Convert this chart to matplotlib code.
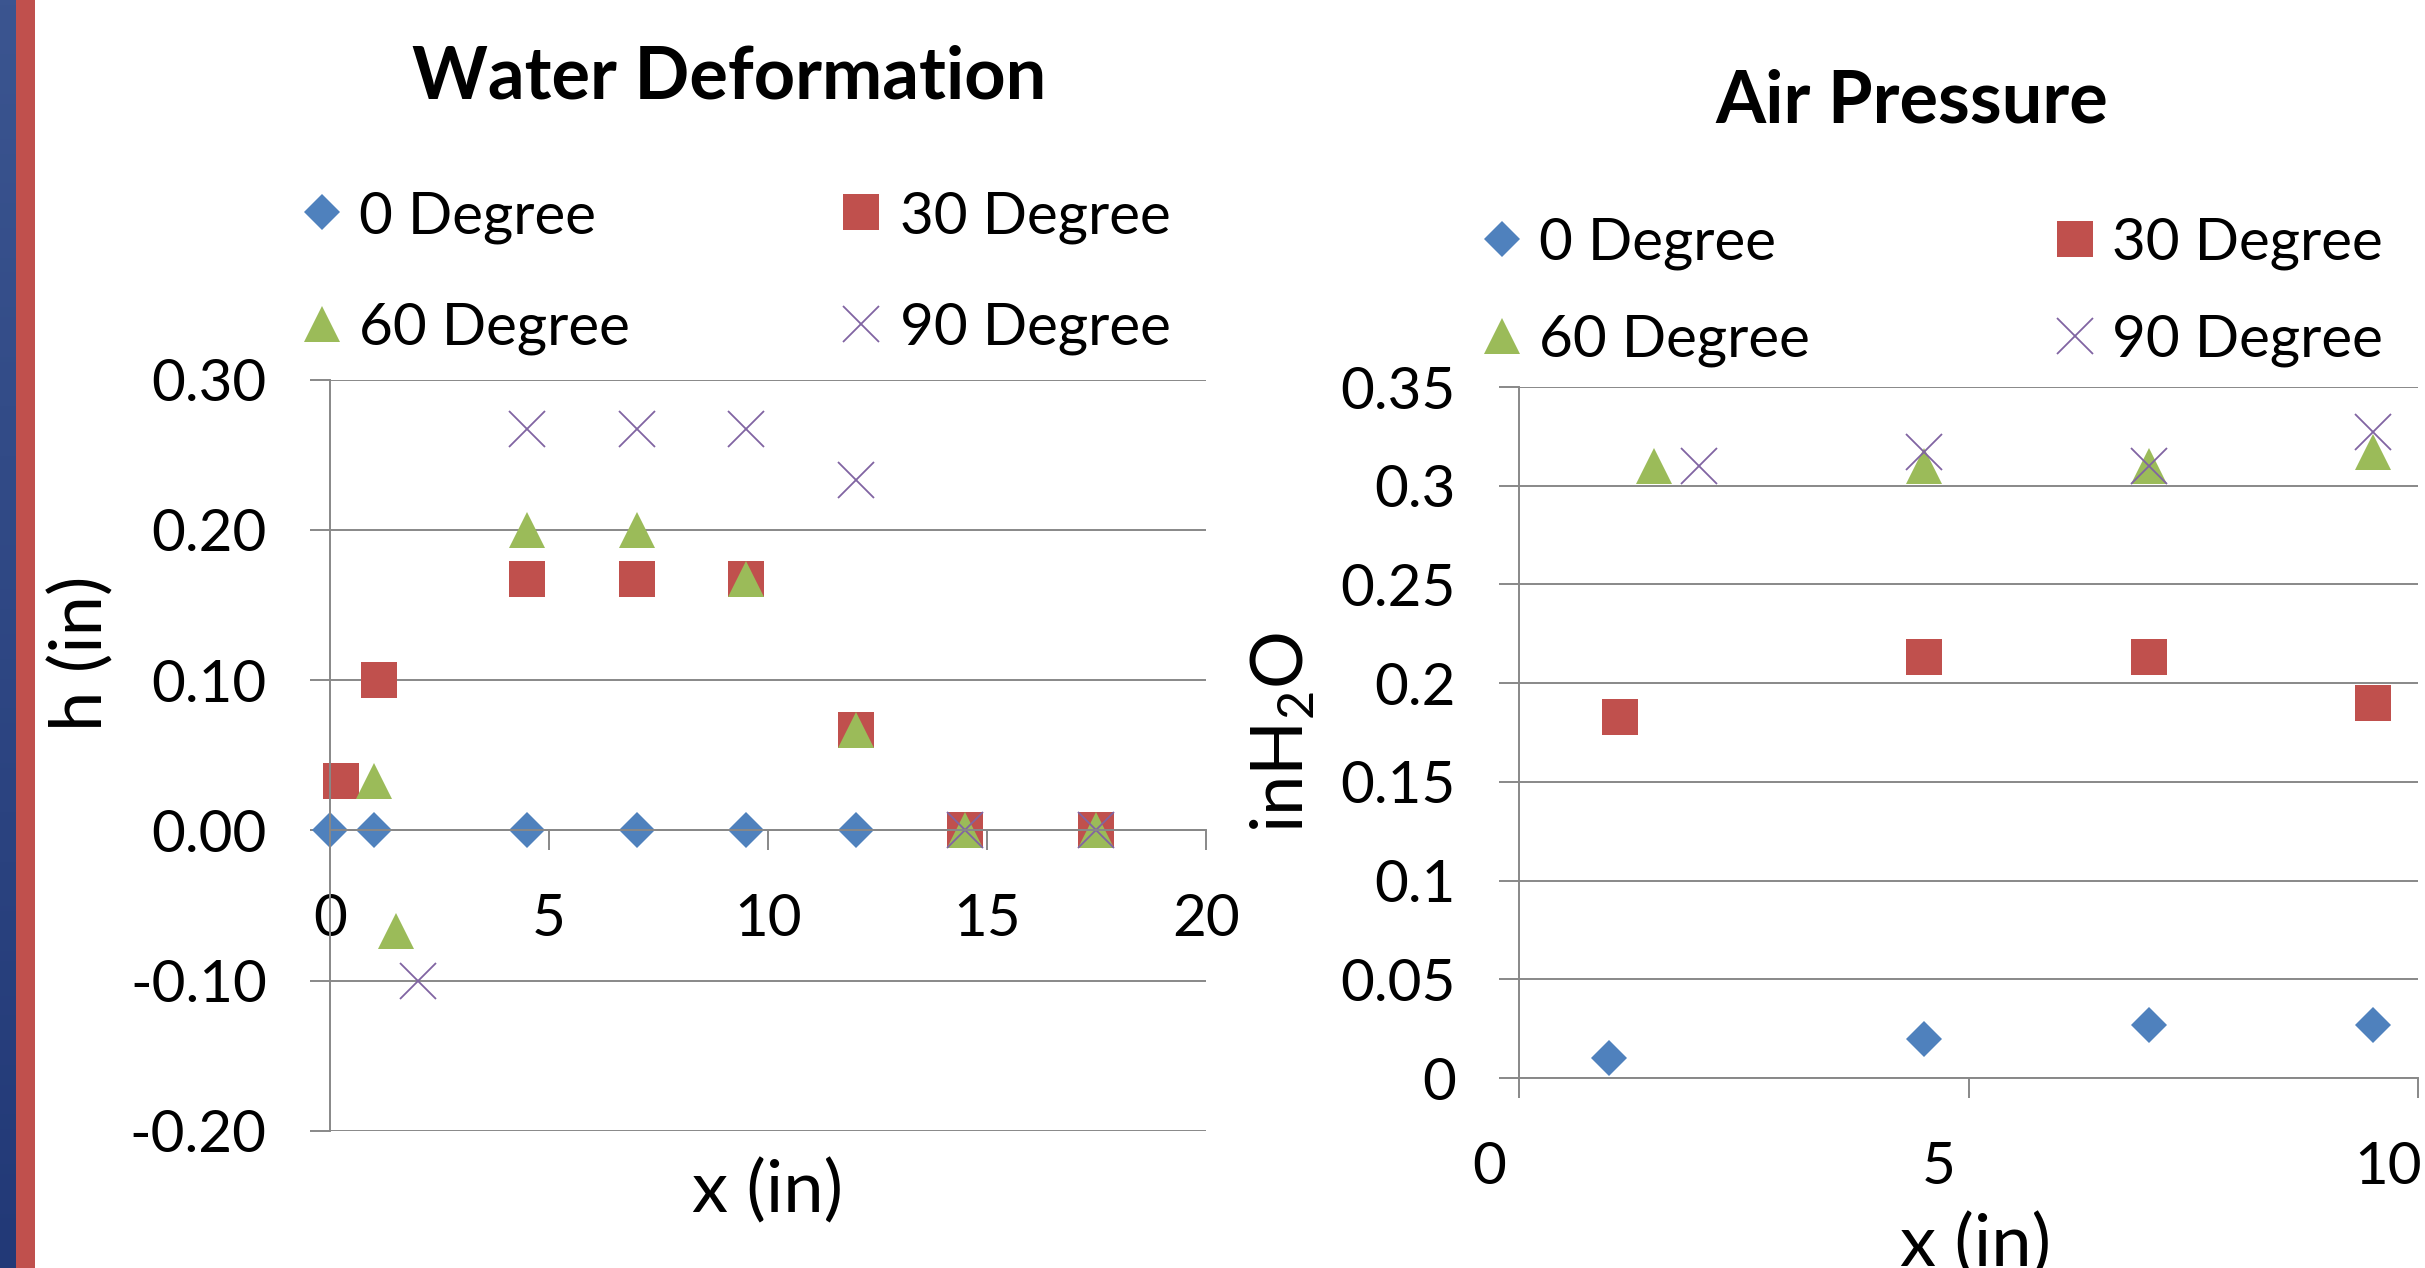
import numpy as np
import matplotlib
matplotlib.use("Agg")
import matplotlib.pyplot as plt
from matplotlib.lines import Line2D
from matplotlib.patches import Rectangle
from matplotlib.transforms import ScaledTranslation

plt.rcParams['font.family'] = ['Lato', 'DejaVu Sans']
plt.rcParams['mathtext.fontset'] = 'custom'
plt.rcParams['mathtext.rm'] = 'Lato'

# ---------------------------------------------------------------------------
# data
# ---------------------------------------------------------------------------
series_names = ['0 Degree', '30 Degree', '60 Degree', '90 Degree']

# Water Deformation: h (in) vs x (in)
water_x_0 = [0, 1, 4.5, 7, 9.5, 12, 14.5, 17.5]
water_h_0 = [0, 0, 0, 0, 0, 0, 0, 0]
water_x_30 = [0.25, 1.125, 4.5, 7, 9.5, 12, 14.5, 17.5]
water_h_30 = [0.033, 0.1, 0.167, 0.167, 0.167, 0.067, 0, 0]
water_x_60 = [1, 1.5, 4.5, 7, 9.5, 12, 14.5, 17.5]
water_h_60 = [0.033, -0.067, 0.2, 0.2, 0.167, 0.067, 0, 0]
water_x_90 = [2, 4.5, 7, 9.5, 12, 14.5, 17.5]
water_h_90 = [-0.1, 0.267, 0.267, 0.267, 0.233, 0, 0]

water_yticks = [-0.2, -0.1, 0.0, 0.1, 0.2, 0.3]
water_ytick_labels = ['-0.20', '-0.10', '0.00', '0.10', '0.20', '0.30']
water_xticks = [0, 5, 10, 15, 20]

# Air Pressure: inH2O vs x (in)
air_x_0 = [1, 4.5, 7, 9.5]
air_p_0 = [0.01, 0.02, 0.027, 0.027]
air_x_30 = [1.125, 4.5, 7, 9.5]
air_p_30 = [0.183, 0.213, 0.213, 0.19]
air_x_60 = [1.5, 4.5, 7, 9.5]
air_p_60 = [0.31, 0.31, 0.31, 0.317]
air_x_90 = [2, 4.5, 7, 9.5]
air_p_90 = [0.31, 0.317, 0.31, 0.327]

air_yticks = [0, 0.05, 0.1, 0.15, 0.2, 0.25, 0.3, 0.35]
air_ytick_labels = ['0', '0.05', '0.1', '0.15', '0.2', '0.25', '0.3', '0.35']
air_xticks = [0, 5, 10]

# ---------------------------------------------------------------------------
# styling (Excel 2007 look)
# ---------------------------------------------------------------------------
COLORS = ['#4F81BD', '#C0504D', '#9BBB59', '#8064A2']
MARKERS = ['D', 's', '^', 'x']
SIZES = [18.5, 26, 26, 26]
GRID = '#888888'

W, H = 2425, 1268
fig = plt.figure(figsize=(W / 100, H / 100), dpi=100)


def px_box(x0, x1, ytop, ybot):
    return [x0 / W, 1 - ybot / H, (x1 - x0) / W, (ybot - ytop) / H]


def style_series(i):
    kw = dict(linestyle='none', marker=MARKERS[i], markersize=SIZES[i],
              color=COLORS[i], clip_on=False)
    if MARKERS[i] == 'x':
        kw['markeredgewidth'] = 1.3
    else:
        kw['markeredgewidth'] = 0
    return kw


def style_axes(ax):
    for side in ['top', 'right']:
        ax.spines[side].set_visible(False)
    for side in ['left', 'bottom']:
        ax.spines[side].set_color(GRID)
        ax.spines[side].set_linewidth(1.4)
    ax.grid(axis='y', color=GRID, linewidth=1.4)
    ax.set_axisbelow(True)
    ax.tick_params(axis='both', direction='out', length=14.4, width=1.4,
                   color=GRID, pad=31, labelsize=42)


def draw_legend(xs_marker, xs_text, ys_row):
    k = 0
    for r in range(2):
        for c in range(2):
            fig.add_artist(Line2D([xs_marker[c] / W], [1 - ys_row[r] / H],
                                  transform=fig.transFigure, **style_series(k)))
            fig.text(xs_text[c] / W, 1 - (ys_row[r] + 21) / H, series_names[k],
                     fontsize=42, ha='left', va='baseline')
            k += 1


# left stripes
grad_ax = fig.add_axes([0, 0, 16 / W, 1])
grad = np.linspace(0, 1, 256).reshape(-1, 1)
top_c = np.array([0x3B, 0x55, 0x90]) / 255
bot_c = np.array([0x22, 0x39, 0x77]) / 255
grad_img = top_c[None, None, :] * (1 - grad[..., None]) + bot_c[None, None, :] * grad[..., None]
grad_ax.imshow(grad_img, aspect='auto', extent=[0, 1, 0, 1])
grad_ax.axis('off')
fig.add_artist(Rectangle((16 / W, 0), 19 / W, 1, transform=fig.transFigure,
                         facecolor='#C0504D', edgecolor='none'))

# ---------------------------------------------------------------------------
# Water Deformation
# ---------------------------------------------------------------------------
ax1 = fig.add_axes(px_box(329.9, 1206, 379.5, 1131))
style_axes(ax1)
water = [(water_x_0, water_h_0), (water_x_30, water_h_30),
         (water_x_60, water_h_60), (water_x_90, water_h_90)]
for i, (xs, ys) in enumerate(water):
    ax1.plot(xs, ys, label=series_names[i], **style_series(i))
ax1.set_xlim(0, 20)
ax1.set_ylim(-0.2, 0.3)
ax1.spines['bottom'].set_position(('data', 0))
ax1.set_xticks(water_xticks)
ax1.set_yticks(water_yticks)
ax1.set_yticklabels(water_ytick_labels)
fig.text(729 / W, 1 - 78 / H, 'Water Deformation', fontsize=52,
         fontweight='bold', ha='center', va='center')
fig.text(81 / W, 1 - 653 / H, 'h (in)', fontsize=52, rotation=90,
         ha='center', va='center')
fig.text(767 / W, 1 - 1191 / H, 'x (in)', fontsize=52, ha='center', va='center')
draw_legend([321.6, 861], [359, 899.6], [212, 323.5])

# ---------------------------------------------------------------------------
# Air Pressure
# ---------------------------------------------------------------------------
ax2 = fig.add_axes(px_box(1519, 2418.3, 387, 1078))
style_axes(ax2)
air = [(air_x_0, air_p_0), (air_x_30, air_p_30),
       (air_x_60, air_p_60), (air_x_90, air_p_90)]
for i, (xs, ys) in enumerate(air):
    ax2.plot(xs, ys, label=series_names[i], **style_series(i))
ax2.set_xlim(0, 10)
ax2.set_ylim(0, 0.35)
ax2.set_xticks(air_xticks)
ax2.set_yticks(air_yticks)
ax2.set_yticklabels(air_ytick_labels)
shift = ScaledTranslation(-30 / 100, 0, fig.dpi_scale_trans)
for lab in ax2.get_xticklabels():
    lab.set_transform(lab.get_transform() + shift)
fig.text(1912 / W, 1 - 102 / H, 'Air Pressure', fontsize=52,
         fontweight='bold', ha='center', va='center')
fig.text(1283 / W, 1 - 732 / H, r'inH$_\mathrm{2}$O', fontsize=52, rotation=90,
         ha='center', va='center')
fig.text(1976 / W, 1 - 1245 / H, 'x (in)', fontsize=52, ha='center', va='center')
draw_legend([1502, 2074.5], [1538.7, 2111.9], [238.6, 335.6])

fig.savefig('out.png', dpi=100)
